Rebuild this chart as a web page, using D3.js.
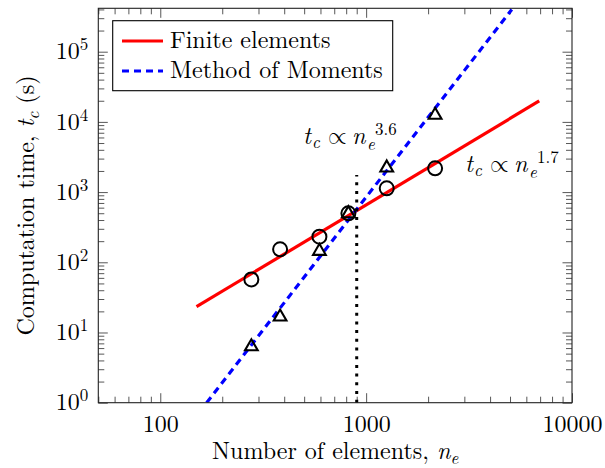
<!DOCTYPE html>
<html>
<head>
<meta charset="utf-8">
<script src="https://cdnjs.cloudflare.com/ajax/libs/d3/7.8.5/d3.min.js"></script>
<style>
  body { margin: 0; background: #fff; }
</style>
</head>
<body>
<div id="container"></div>
<script>
let w = 605;
let h = 468;

// data
const nElems = [277, 382, 593, 820, 1259, 2163];
const feTime = [57, 153, 232, 499, 1132, 2183];
const momTime = [6.3, 16.7, 144, 495, 2220, 12500];

// fitted trend lines (end points)
const feFitN = [150, 6930];
const feFitT = [23.3, 19850];
const momFitN = [168, 5100];
const momFitT = [1, 400000];

// vertical dotted marker
const cutN = 900;
const cutTop = 1750;

const xMajor = [100, 1000, 10000];
const yMajor = [1, 10, 100, 1000, 10000, 100000];
const legendNames = ["Finite elements", "Method of Moments"];
const legendColors = ["#ff0000", "#0000ff"];
const legendDash = [null, "7,5"];
const slopes = ["3.6", "1.7"];

let pLeft = 98.3, pTop = 8.3, pRight = 572, pBottom = 402.7;
let font = "'Latin Modern Roman', 'Liberation Serif', serif";

let viz = d3.select("#container")
  .append("svg")
    .attr("width", w)
    .attr("height", h)
    .attr("font-family", font)
    .style("background-color", "#ffffff");

let x = d3.scaleLog().domain([50, 10000]).range([pLeft, pRight]);
let y = d3.scaleLog().domain([1, 415000]).range([pBottom, pTop]);

let xMinor = x.ticks().filter(d => xMajor.indexOf(d) < 0);
let yMinor = y.ticks().filter(d => yMajor.indexOf(d) < 0);

function styleAxis(g) {
  g.select(".domain").remove();
  g.selectAll(".tick line").attr("stroke", "#444").attr("stroke-width", 0.9);
  g.attr("font-family", font).attr("font-size", 24);
  g.selectAll(".tick text").attr("fill", "#000");
  // drop the empty labels of tick-only axes
  g.selectAll(".tick text").filter(function() { return this.textContent === ""; }).remove();
}

// bottom axis with labels
viz.append("g")
  .attr("transform", "translate(0," + pBottom + ")")
  .call(d3.axisBottom(x).tickValues(xMajor).tickSize(-9.5).tickSizeOuter(0)
        .tickPadding(12).tickFormat(d3.format("d")))
  .call(styleAxis);

viz.append("g")
  .attr("transform", "translate(0," + pBottom + ")")
  .call(d3.axisBottom(x).tickValues(xMinor).tickSize(-6).tickSizeOuter(0).tickFormat(""))
  .call(styleAxis);

// top mirror ticks
viz.append("g")
  .attr("transform", "translate(0," + pTop + ")")
  .call(d3.axisTop(x).tickValues(xMajor).tickSize(-9.5).tickSizeOuter(0).tickFormat(""))
  .call(styleAxis);

viz.append("g")
  .attr("transform", "translate(0," + pTop + ")")
  .call(d3.axisTop(x).tickValues(xMinor).tickSize(-6).tickSizeOuter(0).tickFormat(""))
  .call(styleAxis);

// left axis with 10^k labels
let yAxis = viz.append("g")
  .attr("transform", "translate(" + pLeft + ",0)")
  .call(d3.axisLeft(y).tickValues(yMajor).tickSize(-9.5).tickSizeOuter(0)
        .tickPadding(10).tickFormat(d => Math.round(Math.log10(d))))
  .call(styleAxis);

yAxis.selectAll(".tick text").each(function(d) {
  let t = d3.select(this);
  let e = Math.round(Math.log10(d));
  t.text("10").attr("dy", "0.3em");
  t.append("tspan").attr("dy", -9).attr("font-size", 17).text(e);
});

viz.append("g")
  .attr("transform", "translate(" + pLeft + ",0)")
  .call(d3.axisLeft(y).tickValues(yMinor).tickSize(-6).tickSizeOuter(0).tickFormat(""))
  .call(styleAxis);

// right mirror ticks
viz.append("g")
  .attr("transform", "translate(" + pRight + ",0)")
  .call(d3.axisRight(y).tickValues(yMajor).tickSize(-9.5).tickSizeOuter(0).tickFormat(""))
  .call(styleAxis);

viz.append("g")
  .attr("transform", "translate(" + pRight + ",0)")
  .call(d3.axisRight(y).tickValues(yMinor).tickSize(-6).tickSizeOuter(0).tickFormat(""))
  .call(styleAxis);

// clip for the lines
viz.append("clipPath")
  .attr("id", "plotclip")
  .append("rect")
    .attr("x", pLeft)
    .attr("y", pTop)
    .attr("width", pRight - pLeft)
    .attr("height", pBottom - pTop);

let line = d3.line().x(d => x(d[0])).y(d => y(d[1]));

viz.append("path")
  .datum(feFitN.map((n, i) => [n, feFitT[i]]))
  .attr("d", line)
  .attr("fill", "none")
  .attr("stroke", legendColors[0])
  .attr("stroke-width", 3.2)
  .attr("clip-path", "url(#plotclip)");

viz.append("path")
  .datum(momFitN.map((n, i) => [n, momFitT[i]]))
  .attr("d", line)
  .attr("fill", "none")
  .attr("stroke", legendColors[1])
  .attr("stroke-width", 3.2)
  .attr("stroke-dasharray", legendDash[1])
  .attr("clip-path", "url(#plotclip)");

// dotted vertical line
viz.append("line")
  .attr("x1", x(cutN))
  .attr("x2", x(cutN))
  .attr("y1", y(1))
  .attr("y2", y(cutTop))
  .attr("stroke", "#000")
  .attr("stroke-width", 3)
  .attr("stroke-dasharray", "3,5.7");

// markers
viz.selectAll(".fe")
  .data(nElems)
  .enter()
  .append("circle")
    .attr("class", "fe")
    .attr("cx", d => x(d))
    .attr("cy", (d, i) => y(feTime[i]))
    .attr("r", 7)
    .attr("fill", "none")
    .attr("stroke", "#000")
    .attr("stroke-width", 2);

viz.selectAll(".mom")
  .data(nElems)
  .enter()
  .append("path")
    .attr("class", "mom")
    .attr("d", d3.symbol(d3.symbolTriangle, 70))
    .attr("transform", (d, i) => "translate(" + x(d) + "," + y(momTime[i]) + ")")
    .attr("fill", "none")
    .attr("stroke", "#000")
    .attr("stroke-width", 2.1);

// frame
viz.append("rect")
  .attr("x", pLeft)
  .attr("y", pTop)
  .attr("width", pRight - pLeft)
  .attr("height", pBottom - pTop)
  .attr("fill", "none")
  .attr("stroke", "#222")
  .attr("stroke-width", 1.1);

// legend
viz.append("rect")
  .attr("x", 112.7)
  .attr("y", 20.7)
  .attr("width", 280)
  .attr("height", 70)
  .attr("fill", "#fff")
  .attr("stroke", "#000")
  .attr("stroke-width", 1.1);

for (let i = 0; i < legendNames.length; i++) {
  viz.append("line")
    .attr("x1", 122)
    .attr("x2", 163)
    .attr("y1", 41 + i * 30)
    .attr("y2", 41 + i * 30)
    .attr("stroke", legendColors[i])
    .attr("stroke-width", 3.2)
    .attr("stroke-dasharray", legendDash[i]);

  viz.append("text")
    .attr("x", 170)
    .attr("y", 47.5 + i * 30)
    .attr("font-size", 24)
    .attr("fill", "#000")
    .text(legendNames[i]);
}

// t_c ∝ n_e^k annotations
function mathLabel(x0, y0, k) {
  let t = viz.append("text").attr("fill", "#000").attr("font-size", 24);
  t.append("tspan").attr("x", x0).attr("y", y0).attr("font-style", "italic").text("t");
  t.append("tspan").attr("x", x0 + 9).attr("y", y0 + 4.5).attr("font-style", "italic")
    .attr("font-size", 17).text("c");
  t.append("tspan").attr("x", x0 + 25).attr("y", y0)
    .attr("font-family", "'Latin Modern Math', 'FreeSerif', serif").text("\u221D");
  t.append("tspan").attr("x", x0 + 49).attr("y", y0).attr("font-style", "italic").text("n");
  t.append("tspan").attr("x", x0 + 64).attr("y", y0 + 6).attr("font-style", "italic")
    .attr("font-size", 17).text("e");
  t.append("tspan").attr("x", x0 + 72).attr("y", y0 - 9).attr("font-size", 17).text(k);
}

mathLabel(303, 143.5, slopes[0]);
mathLabel(465, 171.5, slopes[1]);

// axis titles
let xt = viz.append("text")
  .attr("x", (pLeft + pRight) / 2)
  .attr("y", 459)
  .attr("text-anchor", "middle")
  .attr("font-size", 24)
  .attr("fill", "#000")
  .text("Number of elements, ");
xt.append("tspan").attr("font-style", "italic").text("n");
xt.append("tspan").attr("dy", 4.5).attr("font-style", "italic").attr("font-size", 17).text("e");

let yt = viz.append("text")
  .attr("transform", "translate(34," + (pTop + pBottom) / 2 + ") rotate(-90)")
  .attr("text-anchor", "middle")
  .attr("font-size", 24)
  .attr("fill", "#000")
  .text("Computation time, ");
yt.append("tspan").attr("font-style", "italic").text("t");
yt.append("tspan").attr("dy", 5).attr("font-style", "italic").attr("font-size", 17).text("c");
yt.append("tspan").attr("dy", -5).text(" (s)");
</script>
</body>
</html>
